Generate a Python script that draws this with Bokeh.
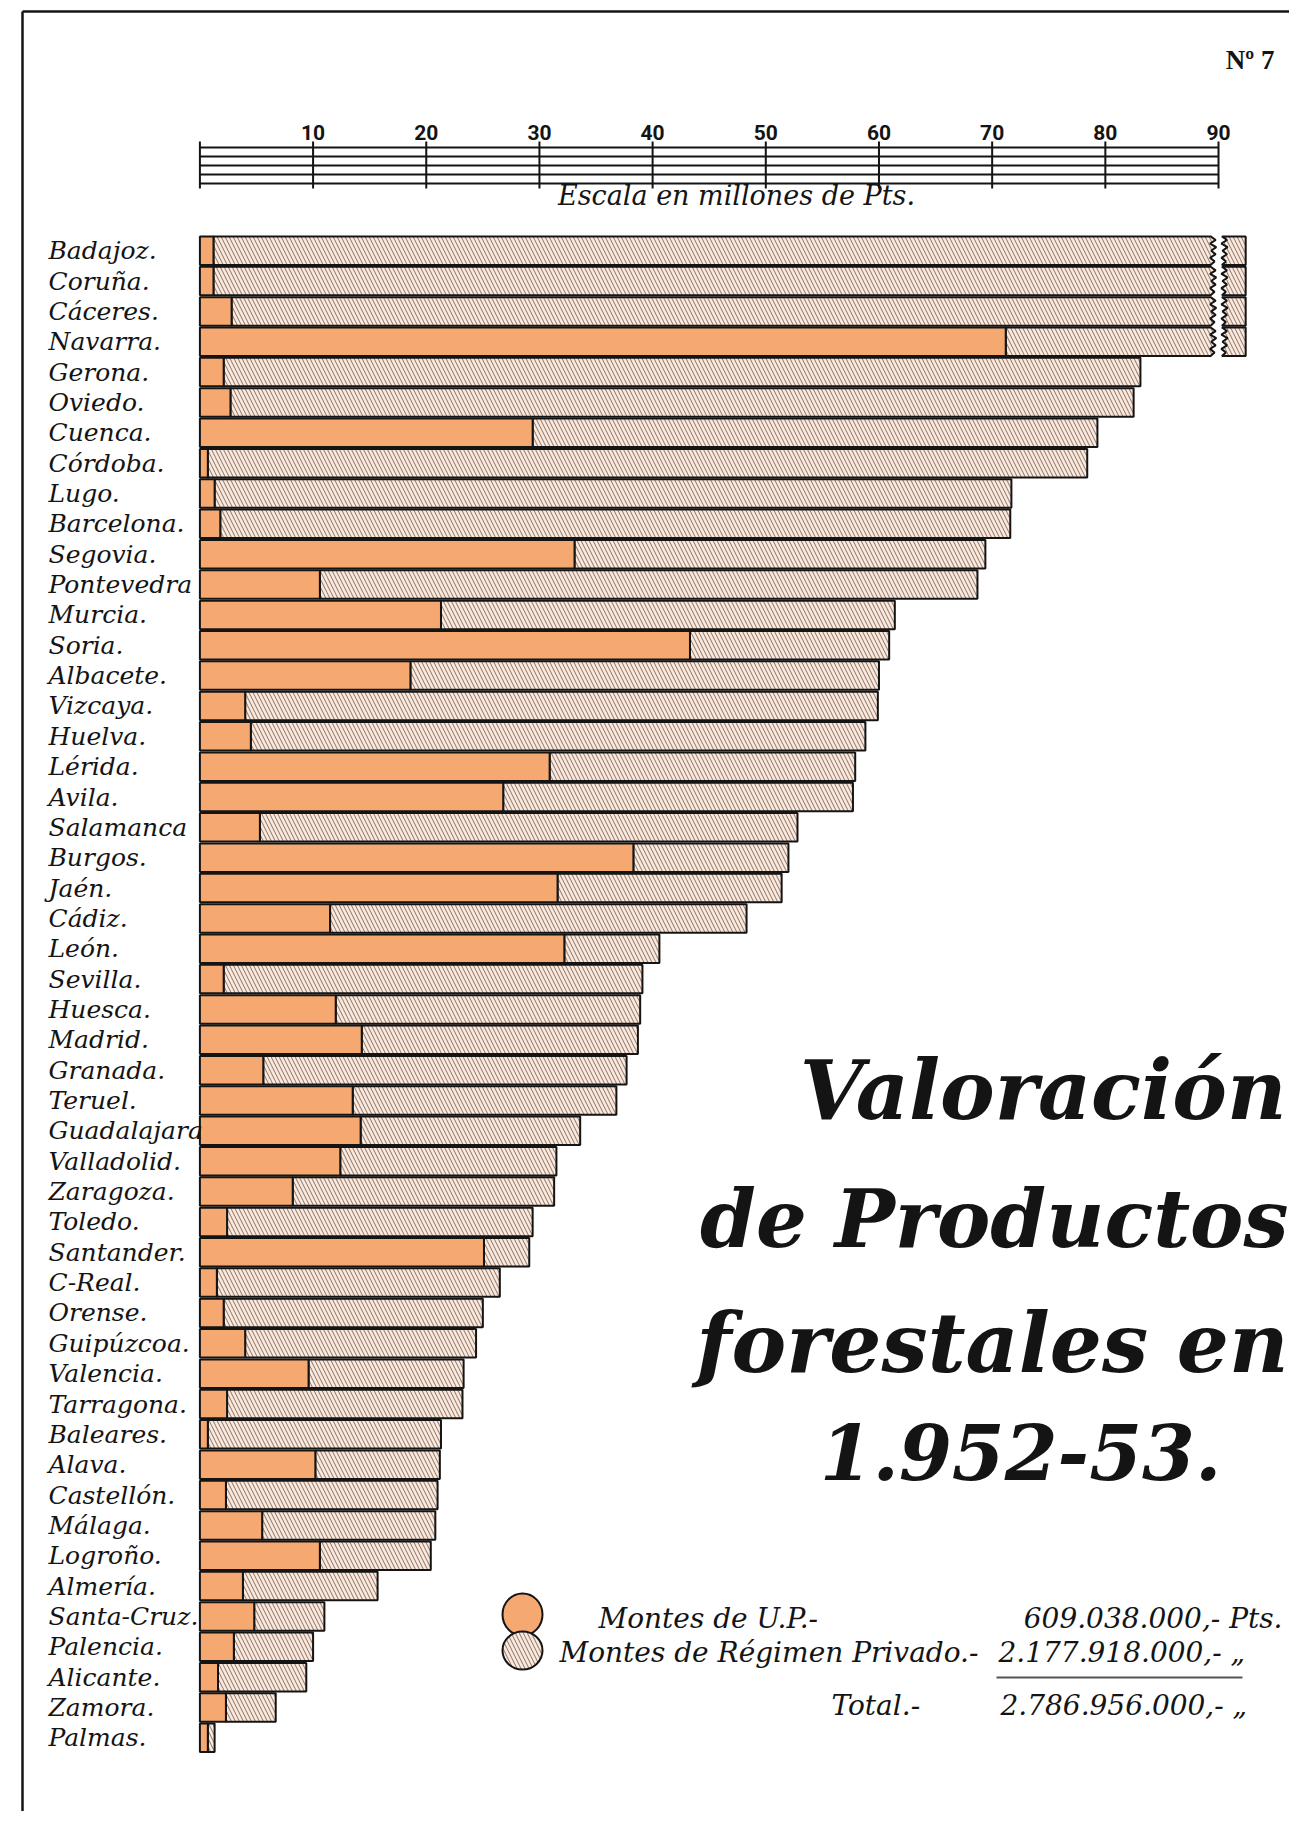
from bokeh.plotting import figure
from bokeh.models import Range1d, ColumnDataSource
from bokeh.embed import file_html
from bokeh.resources import INLINE
from bokeh.core.properties import value

# ---------------- data (millones de pesetas) ----------------
provincias = ["Badajoz.", "Coruña.", "Cáceres.", "Navarra.", "Gerona.", "Oviedo.",
              "Cuenca.", "Córdoba.", "Lugo.", "Barcelona.", "Segovia.", "Pontevedra",
              "Murcia.", "Soria.", "Albacete.", "Vizcaya.", "Huelva.", "Lérida.",
              "Avila.", "Salamanca", "Burgos.", "Jaén.", "Cádiz.", "León.",
              "Sevilla.", "Huesca.", "Madrid.", "Granada.", "Teruel.", "Guadalajara",
              "Valladolid.", "Zaragoza.", "Toledo.", "Santander.", "C-Real.", "Orense.",
              "Guipúzcoa.", "Valencia.", "Tarragona.", "Baleares.", "Alava.", "Castellón.",
              "Málaga.", "Logroño.", "Almería.", "Santa-Cruz.", "Palencia.", "Alicante.",
              "Zamora.", "Palmas."]

montes_up = [1.2, 1.2, 2.8, 71.2, 2.1, 2.7, 29.4, 0.7, 1.3, 1.8,
             33.1, 10.6, 21.3, 43.3, 18.6, 4.0, 4.5, 30.9, 26.8, 5.3,
             38.3, 31.6, 11.5, 32.2, 2.1, 12.0, 14.3, 5.6, 13.5, 14.2,
             12.4, 8.2, 2.4, 25.1, 1.5, 2.1, 4.0, 9.6, 2.4, 0.7,
             10.2, 2.3, 5.5, 10.6, 3.8, 4.8, 3.0, 1.6, 2.3, 0.7]

total = [260.0, 235.0, 210.0, 188.0, 83.1, 82.5, 79.3, 78.4, 71.7, 71.6,
         69.4, 68.7, 61.4, 60.9, 60.0, 59.9, 58.8, 57.9, 57.7, 52.8,
         52.0, 51.4, 48.3, 40.6, 39.1, 38.9, 38.7, 37.7, 36.8, 33.6,
         31.5, 31.3, 29.4, 29.1, 26.5, 25.0, 24.4, 23.3, 23.2, 21.3,
         21.2, 21.0, 20.8, 20.4, 15.7, 11.0, 10.0, 9.4, 6.7, 1.3]

escala_ticks = [0, 10, 20, 30, 40, 50, 60, 70, 80, 90]
escala_labels = ["", "10", "20", "30", "40", "50", "60", "70", "80", "90"]

total_up_pts = 609038000
total_priv_pts = 2177918000

# ---------------- layout helpers ----------------
W, H = 1289, 1811
PX_PER_UNIT = 11.318
X0_PX = 199.4
ROW_PX = 30.35
ROW0_PX = 250.2
SCALE_MAX = 90
BREAK = 89.3
STUB = (90.3, 92.4)


def X(px):
    return (px - X0_PX) / PX_PER_UNIT


def Y(py):
    return (py - ROW0_PX) / ROW_PX


ORANGE = "#f5a970"
CREAM = "#f8ebe2"
HATCH = "#987562"
INK = "#141414"
FONT = value("DejaVu Serif")

p = figure(width=W, height=H, output_backend="svg", toolbar_location=None,
           x_range=Range1d(-X0_PX / PX_PER_UNIT, (W - X0_PX) / PX_PER_UNIT),
           y_range=Range1d((H - ROW0_PX) / ROW_PX, -ROW0_PX / ROW_PX),
           min_border=0)
p.axis.visible = False
p.grid.visible = False
p.outline_line_color = None
p.background_fill_color = "white"
p.border_fill_color = "white"

# page frame (scanned sheet edge)
p.segment(x0=[X(22), X(22)], y0=[Y(11), Y(11)], x1=[X(1305), X(22)], y1=[Y(11), Y(1827)],
          line_color=INK, line_width=2.5)

n = len(provincias)
idx = list(range(n))
BAR_H = 0.94

hatch_kw = dict(fill_color=CREAM, hatch_pattern="left_diagonal_line", hatch_color=HATCH,
                hatch_scale=8, hatch_weight=1.1, hatch_alpha=0.9,
                line_color=INK, line_width=2)

# private forests: normal bars
normal = [i for i in idx if total[i] <= SCALE_MAX]
src_priv = ColumnDataSource(dict(y=[i for i in normal],
                                 left=[montes_up[i] for i in normal],
                                 right=[total[i] for i in normal]))
p.hbar(y="y", left="left", right="right", height=BAR_H, source=src_priv, **hatch_kw)

# private forests: bars running off the scale (broken)
wave_off = [0.0, 0.45, -0.05, 0.5, 0.05, 0.45, -0.05, 0.35, 0.0]
broken = [i for i in idx if total[i] > SCALE_MAX]
xs_main, ys_main, xs_stub, ys_stub = [], [], [], []
for i in broken:
    top, bot = i - BAR_H / 2, i + BAR_H / 2
    wy = [top + (bot - top) * k / (len(wave_off) - 1) for k in range(len(wave_off))]
    xs_main.append([montes_up[i]] + [BREAK + o for o in wave_off] + [montes_up[i]])
    ys_main.append([top] + wy + [bot])
    xs_stub.append([STUB[0] + o for o in wave_off] + [STUB[1], STUB[1]])
    ys_stub.append(wy + [bot, top])
p.patches(xs=xs_main, ys=ys_main, **hatch_kw)
p.patches(xs=xs_stub, ys=ys_stub, **hatch_kw)

# public forests (Montes de U.P.)
src_up = ColumnDataSource(dict(y=idx, right=montes_up))
p.hbar(y="y", left=0, right="right", height=BAR_H, source=src_up,
       fill_color=ORANGE, line_color=INK, line_width=2)

# province labels
src_lab = ColumnDataSource(dict(y=idx, t=provincias))
p.text(x=X(48), y="y", text="t", source=src_lab, text_font=FONT,
       text_font_style="italic", text_font_size="25px", text_color=INK,
       text_baseline="middle", text_align="left")

# ---------------- scale ruler ----------------
rule_levels = [147, 156, 165, 174, 183]
p.segment(x0=[escala_ticks[0]] * len(rule_levels), x1=[escala_ticks[-1]] * len(rule_levels),
          y0=[Y(v) for v in rule_levels], y1=[Y(v) for v in rule_levels],
          line_color=INK, line_width=1.8)
p.segment(x0=escala_ticks, x1=escala_ticks, y0=[Y(141)] * len(escala_ticks),
          y1=[Y(188)] * len(escala_ticks), line_color=INK, line_width=2)
p.text(x=escala_ticks, y=[Y(132)] * len(escala_ticks), text=escala_labels,
       text_font=value("Roboto"), text_font_style="bold", text_font_size="21px",
       text_color=INK, text_align="center", text_baseline="middle")
p.text(x=[X(736)], y=[Y(195)], text=["Escala en millones de Pts."], text_font=FONT,
       text_font_style="italic", text_font_size="27px", text_color=INK,
       text_align="center", text_baseline="middle")

p.text(x=[X(1274)], y=[Y(59)], text=["Nº 7"], text_font=value("Liberation Serif"),
       text_font_style="bold", text_font_size="27px", text_color=INK,
       text_align="right", text_baseline="middle")

# ---------------- title ----------------
title_lines = ["Valoración", "de Productos", "forestales en", "1.952-53."]
title_y = [1089, 1218, 1342, 1451]
title_x = [1286, 1288, 1288, 1020]
title_size = ["82px", "80px", "82px", "76px"]
title_align = ["right", "right", "right", "center"]
for t, ty, tx, ts, ta in zip(title_lines, title_y, title_x, title_size, title_align):
    p.text(x=[X(tx)], y=[Y(ty)], text=[t], text_font=FONT, text_font_style="bold italic",
           text_font_size=ts, text_color=INK, text_align=ta, text_baseline="middle")

# ---------------- legend ----------------
def fmt(v):
    return f"{v:,}".replace(",", ".")


p.ellipse(x=[X(522)], y=[Y(1614)], width=40, height=42, width_units="screen",
          height_units="screen", fill_color=ORANGE, line_color=INK, line_width=2)
p.ellipse(x=[X(522)], y=[Y(1650)], width=40, height=38, width_units="screen",
          height_units="screen", **hatch_kw)

leg_kw = dict(text_font=FONT, text_font_style="italic", text_font_size="28px",
              text_color=INK, text_baseline="middle")
p.text(x=[X(598)], y=[Y(1618)], text=["Montes de U.P.-"], text_align="left", **leg_kw)
p.text(x=[X(1282)], y=[Y(1618)], text=[fmt(total_up_pts) + ",- Pts."],
       text_align="right", **leg_kw)
p.text(x=[X(559)], y=[Y(1652)], text=["Montes de Régimen Privado.-"],
       text_align="left", **leg_kw)
p.text(x=[X(998)], y=[Y(1652)], text=[fmt(total_priv_pts) + ",- „"],
       text_align="left", **leg_kw)
p.segment(x0=[X(996)], x1=[X(1242)], y0=[Y(1677)], y1=[Y(1677)],
          line_color="#555555", line_width=2)
p.text(x=[X(831)], y=[Y(1705)], text=["Total.-"], text_align="left", **leg_kw)
p.text(x=[X(1000)], y=[Y(1705)], text=[fmt(total_up_pts + total_priv_pts) + ",- „"],
       text_align="left", **leg_kw)

open("out.html", "w").write(file_html(p, INLINE))
